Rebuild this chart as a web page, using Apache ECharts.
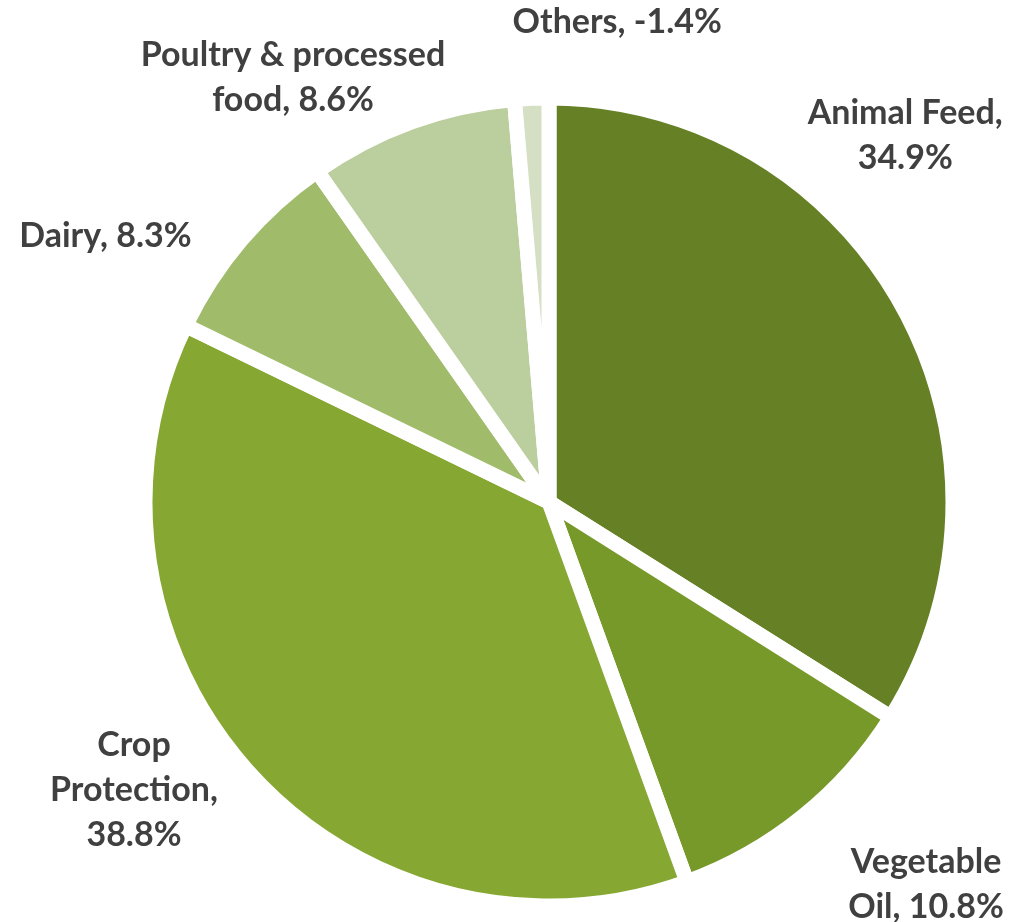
<!DOCTYPE html>
<html>
<head>
<meta charset="utf-8">
<script src="https://cdn.jsdelivr.net/npm/echarts@6/dist/echarts.min.js"></script>
<style>
  html, body { margin: 0; padding: 0; background: #ffffff; }
  #chart { width: 1032px; height: 922px; }
</style>
</head>
<body>
<div id="chart"></div>
<script>
// ---- data ----
const categories = ['Animal Feed', 'Vegetable\nOil', 'Crop\nProtection', 'Dairy', 'Poultry & processed\nfood', 'Others'];
const shareValues = [34.9, 10.8, 38.8, 8.3, 8.6, -1.4];      // percentages as labelled
const sliceColors = ['#668125', '#77992A', '#86A832', '#A0BC6B', '#BBCE9D', '#D4DFC4'];
const labelSeparators = [',\n', ', ', ',\n', ', ', ', ', ', '];

// label placement offsets from the default outside anchor (px)
const labelOffsets = [[-8, -165], [116, 59], [-106, 10], [-127, 4], [-114, -33], [86, -64]];

const chart = echarts.init(document.getElementById('chart'), null, { renderer: 'canvas' });

const seriesData = categories.map((name, i) => ({
  name: name,
  value: Math.abs(shareValues[i]),
  itemStyle: { color: sliceColors[i] },
  label: { formatter: name + labelSeparators[i] + shareValues[i].toFixed(1) + '%' }
}));

chart.setOption({
  animation: false,
  backgroundColor: '#ffffff',
  series: [{
    type: 'pie',
    center: [549, 502],
    radius: 404,
    startAngle: 90,
    clockwise: true,
    avoidLabelOverlap: false,
    itemStyle: { borderColor: '#ffffff', borderWidth: 15 },
    label: {
      show: true,
      position: 'outside',
      fontFamily: 'Lato',
      fontWeight: 'bold',
      fontSize: 34,
      lineHeight: 45,
      color: '#404040',
      align: 'center',
      distanceToLabelLine: 5
    },
    labelLine: { show: false, length: 12, length2: 0 },
    labelLayout: function (p) {
      const r = p.labelRect;
      let ax;
      if (p.align === 'left') ax = r.x - 5;
      else if (p.align === 'right') ax = r.x + r.width + 5;
      else ax = r.x + r.width / 2;
      const ay = r.y + r.height / 2;
      const o = labelOffsets[p.dataIndex];
      return { x: ax + o[0], y: ay + o[1], align: 'center', verticalAlign: 'middle' };
    },
    emphasis: { disabled: true },
    data: seriesData
  }]
});
</script>
</body>
</html>
